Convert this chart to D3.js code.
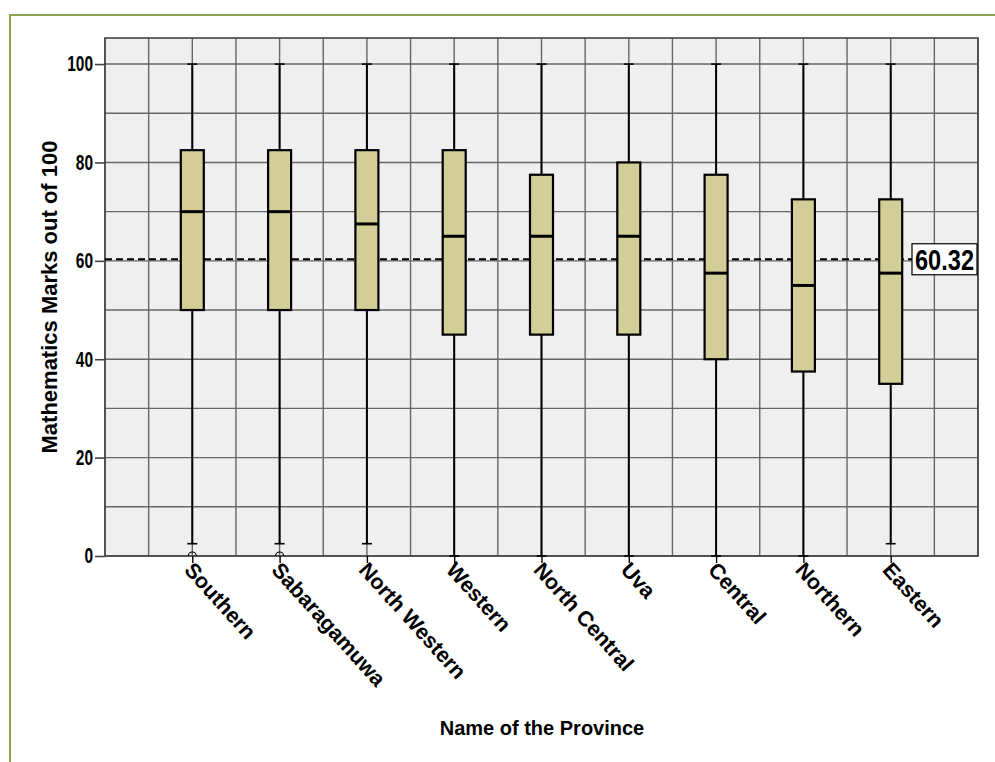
<!DOCTYPE html>
<html lang="en">

<head>
    <meta charset="UTF-8">
    <title>boxplot by province</title>
    <style>
        body { margin: 0; background: #fff; }
        svg { display: block; }
    </style>
</head>

<body>
    <svg id="chart"></svg>

    <script src="https://d3js.org/d3.v7.min.js"></script>
    <script>
        const provinces = ['Southern', 'Sabaragamuwa', 'North Western', 'Western', 'North Central', 'Uva', 'Central', 'Northern', 'Eastern']
        const whiskerLow = [2.5, 2.5, 2.5, 0, 0, 0, 0, 0, 2.5]
        const q1 = [50, 50, 50, 45, 45, 45, 40, 37.5, 35]
        const medians = [70, 70, 67.5, 65, 65, 65, 57.5, 55, 57.5]
        const q3 = [82.5, 82.5, 82.5, 82.5, 77.5, 80, 77.5, 72.5, 72.5]
        const whiskerHigh = [100, 100, 100, 100, 100, 100, 100, 100, 100]
        const outlierProvinces = ['Southern', 'Sabaragamuwa']
        const outlierValues = [0, 0]
        const overallMean = 60.32
        const yTicks = [0, 20, 40, 60, 80, 100]
        const yGrid = [0, 10, 20, 30, 40, 50, 60, 70, 80, 90, 100]

        function render() {
            const svg = d3.select('#chart').attr('width', 995).attr('height', 762)

            const margin = { top: 38, left: 105, right: 17, bottom: 206 }
            const width = 995, height = 762
            const yMax = 105.3

            // outer green frame
            svg.append('rect')
                .attr('x', 10).attr('y', 15)
                .attr('width', 1000).attr('height', 800)
                .attr('fill', 'none')
                .attr('stroke', '#8ba64e')
                .attr('stroke-width', 2)

            const x = d3.scalePoint()
                .domain(provinces)
                .range([margin.left, width - margin.right])
                .padding(1)
            const step = x.step()

            const y = d3.scaleLinear()
                .domain([0, yMax])
                .range([height - margin.bottom, margin.top])

            const x0 = margin.left, x1 = width - margin.right
            const y0 = y(0), yTop = y(yMax)

            svg.append('defs').append('clipPath').attr('id', 'plot')
                .append('rect').attr('x', x0).attr('y', yTop).attr('width', x1 - x0).attr('height', y0 - yTop)

            // plot background
            svg.append('rect')
                .attr('x', x0).attr('y', yTop)
                .attr('width', x1 - x0).attr('height', y0 - yTop)
                .attr('fill', '#efefef')

            // grid
            const vGrid = d3.range(0, 21).map(i => x0 + i * step / 2)
            svg.append('g').selectAll('line')
                .data(vGrid)
                .join('line')
                .attr('x1', d => d).attr('x2', d => d)
                .attr('y1', yTop).attr('y2', y0)
                .attr('stroke', '#666').attr('stroke-width', 1.4)
            svg.append('g').selectAll('line')
                .data(yGrid)
                .join('line')
                .attr('x1', x0).attr('x2', x1)
                .attr('y1', d => y(d)).attr('y2', d => y(d))
                .attr('stroke', '#666').attr('stroke-width', 1.4)

            // plot border
            svg.append('rect')
                .attr('x', x0).attr('y', yTop)
                .attr('width', x1 - x0).attr('height', y0 - yTop)
                .attr('fill', 'none')
                .attr('stroke', '#444').attr('stroke-width', 1.6)

            // reference line for the mean
            svg.append('line')
                .attr('x1', x0).attr('x2', x1 - 66)
                .attr('y1', y(overallMean)).attr('y2', y(overallMean))
                .attr('stroke', '#000').attr('stroke-width', 2)
                .attr('stroke-dasharray', '7,4')

            const boxes = provinces.map((p, i) => ({
                p, lo: whiskerLow[i], q1: q1[i], med: medians[i], q3: q3[i], hi: whiskerHigh[i]
            }))
            const boxW = 23, capW = 10

            const g = svg.append('g')
            // whiskers
            g.selectAll('line.wlo')
                .data(boxes)
                .join('line')
                .attr('class', 'wlo')
                .attr('x1', d => x(d.p)).attr('x2', d => x(d.p))
                .attr('y1', d => y(d.lo)).attr('y2', d => y(d.q1))
                .attr('stroke', '#000').attr('stroke-width', 2)
            g.selectAll('line.whi')
                .data(boxes)
                .join('line')
                .attr('class', 'whi')
                .attr('x1', d => x(d.p)).attr('x2', d => x(d.p))
                .attr('y1', d => y(d.q3)).attr('y2', d => y(d.hi))
                .attr('stroke', '#000').attr('stroke-width', 2)
            // caps
            g.selectAll('line.caplo')
                .data(boxes)
                .join('line')
                .attr('class', 'caplo')
                .attr('x1', d => x(d.p) - capW / 2).attr('x2', d => x(d.p) + capW / 2)
                .attr('y1', d => y(d.lo)).attr('y2', d => y(d.lo))
                .attr('stroke', '#000').attr('stroke-width', 1.6)
            g.selectAll('line.caphi')
                .data(boxes)
                .join('line')
                .attr('class', 'caphi')
                .attr('x1', d => x(d.p) - capW / 2).attr('x2', d => x(d.p) + capW / 2)
                .attr('y1', d => y(d.hi)).attr('y2', d => y(d.hi))
                .attr('stroke', '#000').attr('stroke-width', 1.6)
            // boxes
            g.selectAll('rect')
                .data(boxes)
                .join('rect')
                .attr('x', d => x(d.p) - boxW / 2)
                .attr('y', d => y(d.q3))
                .attr('width', boxW)
                .attr('height', d => y(d.q1) - y(d.q3))
                .attr('fill', '#d3ce97')
                .attr('stroke', '#000').attr('stroke-width', 2.2)
            // medians
            g.selectAll('line.med')
                .data(boxes)
                .join('line')
                .attr('class', 'med')
                .attr('x1', d => x(d.p) - boxW / 2).attr('x2', d => x(d.p) + boxW / 2)
                .attr('y1', d => y(d.med)).attr('y2', d => y(d.med))
                .attr('stroke', '#000').attr('stroke-width', 3)

            // outliers
            svg.append('g').attr('clip-path', 'url(#plot)')
                .selectAll('circle')
                .data(outlierProvinces.map((p, i) => ({ p, v: outlierValues[i] })))
                .join('circle')
                .attr('cx', d => x(d.p)).attr('cy', d => y(d.v))
                .attr('r', 4)
                .attr('fill', 'none').attr('stroke', '#000').attr('stroke-width', 1.2)

            // mean label (condensed look via textLength)
            const lab = svg.append('g').attr('transform', `translate(${x1 - 66},${y(overallMean)})`)
            lab.append('rect')
                .attr('x', 0).attr('y', -15.5)
                .attr('width', 65).attr('height', 31)
                .attr('fill', '#fff').attr('stroke', '#000').attr('stroke-width', 1.2)
            lab.append('text')
                .attr('x', 3).attr('y', 10.5)
                .attr('textLength', 59)
                .attr('lengthAdjust', 'spacingAndGlyphs')
                .style('font-family', '"Liberation Sans", Arial, sans-serif')
                .style('font-weight', 'bold')
                .style('font-size', '29px')
                .text(overallMean.toFixed(2))

            // y axis
            const yAxis = d3.axisLeft(y).tickValues(yTicks).tickSize(10).tickPadding(2).tickFormat(d3.format('d'))
            const ya = svg.append('g')
                .attr('transform', `translate(${x0},0)`)
                .call(yAxis)
            ya.select('.domain').remove()
            ya.selectAll('line').attr('stroke', '#444').attr('stroke-width', 1.6)
            ya.selectAll('text')
                .attr('textLength', d => String(d).length * 8.6)
                .attr('lengthAdjust', 'spacingAndGlyphs')
                .style('font-family', '"Liberation Sans", Arial, sans-serif')
                .style('font-weight', 'bold')
                .style('font-size', '21.5px')
                .attr('fill', '#000')

            // x axis
            const xAxis = d3.axisBottom(x).tickSize(7).tickSizeOuter(0)
            const xa = svg.append('g')
                .attr('transform', `translate(0,${y0})`)
                .call(xAxis)
            xa.select('.domain').remove()
            xa.selectAll('line').attr('stroke', '#000').attr('stroke-width', 1.4)
            xa.selectAll('text')
                .attr('x', 0).attr('y', 0).attr('dy', '0.6em')
                .attr('text-anchor', 'start')
                .attr('transform', 'translate(0,6) rotate(48)')
                .style('font-family', '"Liberation Sans", Arial, sans-serif')
                .style('font-weight', 'bold')
                .style('font-size', '21.5px')
                .attr('fill', '#000')

            // titles
            svg.append('text')
                .attr('transform', `translate(57,${(yTop + y0) / 2}) rotate(-90)`)
                .attr('text-anchor', 'middle')
                .style('font-family', '"Liberation Sans", Arial, sans-serif')
                .style('font-weight', 'bold')
                .style('font-size', '22px')
                .text('Mathematics Marks out of 100')

            svg.append('text')
                .attr('x', 542).attr('y', 735)
                .attr('text-anchor', 'middle')
                .style('font-family', '"Liberation Sans", Arial, sans-serif')
                .style('font-weight', 'bold')
                .style('font-size', '20px')
                .text('Name of the Province')
        }

        render()
    </script>
</body>

</html>
